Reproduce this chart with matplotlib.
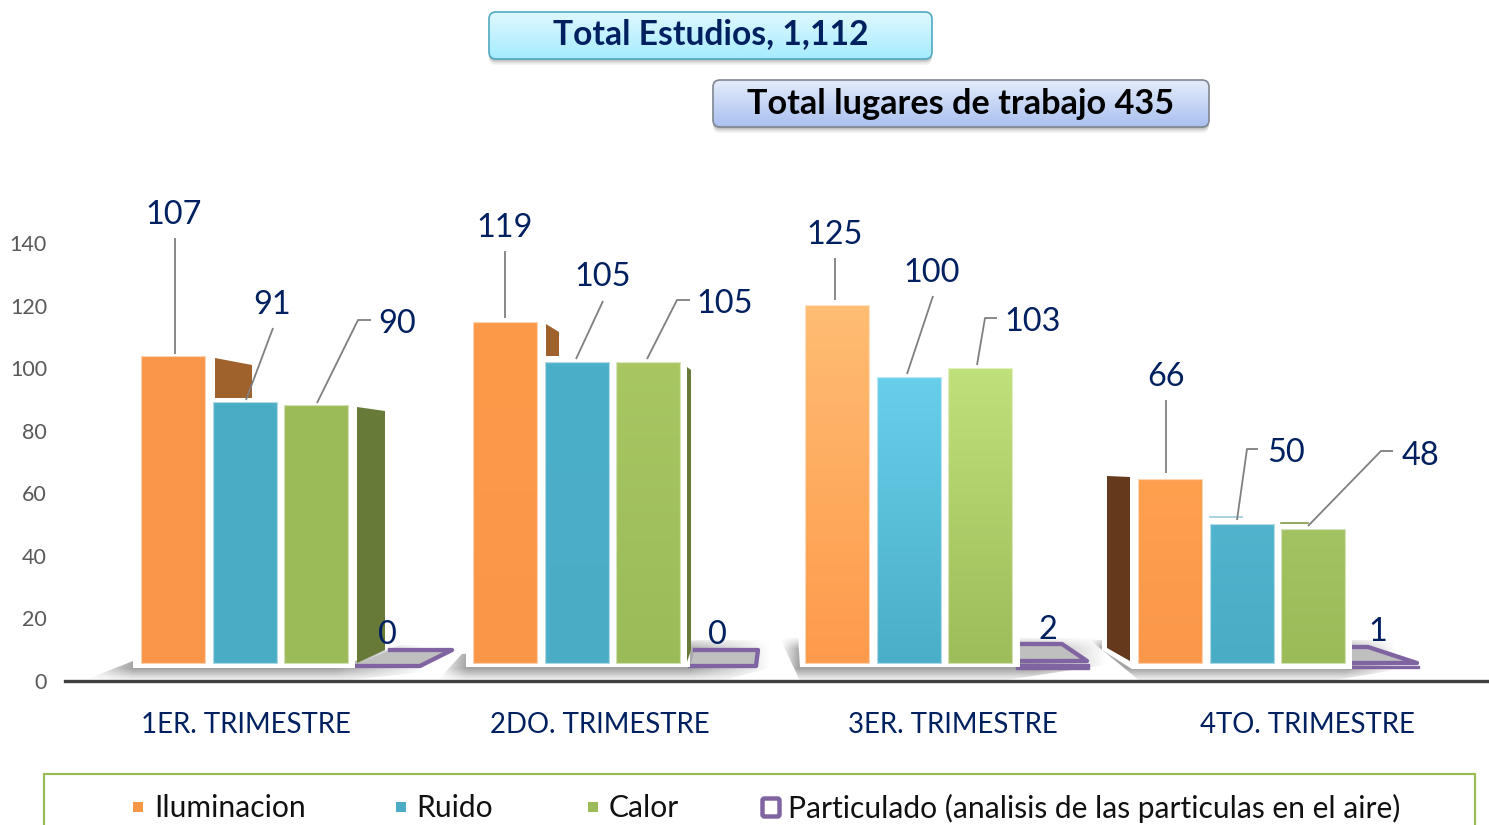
import numpy as np
import matplotlib
matplotlib.use('Agg')
import matplotlib.pyplot as plt
from matplotlib.colors import to_rgb, LinearSegmentedColormap
from matplotlib.patches import Polygon, FancyBboxPatch, Rectangle

plt.rcParams['font.family'] = ['Lato', 'DejaVu Sans']

W, H = 1489, 825
navy = '#002060'

# ================================== data ==================================
trimestres = ['1ER. TRIMESTRE', '2DO. TRIMESTRE', '3ER. TRIMESTRE', '4TO. TRIMESTRE']
iluminacion = [107, 119, 125, 66]
ruido = [91, 105, 100, 50]
calor = [90, 105, 103, 48]
particulado = [0, 0, 2, 1]
y_ticks = [0, 20, 40, 60, 80, 100, 120, 140]
series_names = ['Iluminacion', 'Ruido', 'Calor', 'Particulado (analisis de las particulas en el aire)']
total_estudios = 'Total Estudios, 1,112'
total_lugares = 'Total lugares de trabajo 435'

# ================================== layout ==================================
group_left = [141, 473, 805, 1138]
bar_step = 71.5
bar_w = 65
px_per_unit = 2.875
floor_y = 664
group_squash = [1, 1, 1, 0.977]

# (top colour, bottom colour) per group and series
bar_colors = [
    [('#FA964A', '#FA964A'), ('#4BACC6', '#4BACC6'), ('#9BBB59', '#9BBB59')],
    [('#FD9A4A', '#FA9648'), ('#4CAFC9', '#4BACC6'), ('#A8C763', '#9BBB59')],
    [('#FFBD73', '#FE9A4C'), ('#68CEEA', '#4BAEC8'), ('#BFE07A', '#9DBC5A')],
    [('#FFA04F', '#FB974A'), ('#52B3CE', '#4BACC6'), ('#A3C262', '#9BBB59')],
]

fig = plt.figure(figsize=(W / 100, H / 100), dpi=100)


def full_axes(z):
    a = fig.add_axes([0, 0, 1, 1], zorder=z)
    a.set_axis_off()
    a.patch.set_alpha(0)
    return a


def gradient(a, patch, y0, y1, c_top, c_bottom, x0=0, x1=W, zorder=1):
    cmap = LinearSegmentedColormap.from_list('g', [to_rgb(c_top), to_rgb(c_bottom)])
    im = a.imshow(np.linspace(0, 1, 64)[:, None], cmap=cmap, aspect='auto',
                  extent=[x0, x1, y1, y0], origin='upper', zorder=zorder)
    im.set_clip_path(patch)
    return im


def soft_shadow(a, poly, x0, x1, ramp_l, ramp_r, zorder=1):
    # grey with alpha fading down and towards both ends
    xs = np.arange(x0, x1)
    ys = np.arange(636, 682)
    fx = np.clip((xs - x0) / ramp_l, 0, 1) * np.clip((x1 - xs) / ramp_r, 0, 1)
    fy = np.interp(ys, [636, 648, 668, 681], [0, .55, .62, 0])
    img = np.zeros((len(ys), len(xs), 4))
    img[..., :3] = .42
    img[..., 3] = fy[:, None] * fx[None, :]
    p = Polygon(poly, closed=True, fc='none', ec='none')
    a.add_patch(p)
    im = a.imshow(img, aspect='auto', extent=[x0, x1, 682, 636], origin='upper', zorder=zorder)
    im.set_clip_path(p)


# back layer in picture pixels: floor shadows
back = full_axes(1)
soft_shadow(back, [(85, 680), (133, 661), (355, 661), (400, 645), (440, 645), (425, 672), (340, 681)], 85, 425, 48, 90)
soft_shadow(back, [(438, 680), (462, 654), (700, 640), (770, 640), (770, 668), (720, 681)], 438, 770, 28, 80)
soft_shadow(back, [(780, 638), (1105, 638), (1105, 665), (1000, 681), (800, 681)], 780, 1105, 18, 70)
soft_shadow(back, [(1090, 640), (1395, 640), (1395, 670), (1330, 681), (1140, 681)], 1090, 1395, 10, 50)

# particulado plates, the front band grows with the value
plate_faces = [
    [(355, 666), (420, 666), (452, 650), (390, 650)],
    [(690, 666), (756, 666), (758, 650), (695, 650)],
    [(1016, 644), (1062, 644), (1087, 661), (1016, 661)],
    [(1346, 647), (1368, 647), (1417, 663), (1346, 663)],
]
for face, val in zip(plate_faces, particulado):
    back.add_patch(Polygon(face, closed=True, fc='#BFBFBF', ec='none', zorder=3))
    back.plot(*zip(*face), color='#8064A2', lw=3.1, zorder=3, solid_joinstyle='round')
    if val > 0:
        xs = [q[0] for q in face]
        y = max(q[1] for q in face) + 2.5
        back.add_patch(Rectangle((min(xs), y), max(xs) + 2 - min(xs), val * px_per_unit,
                                 fc='#8064A2', ec='#8064A2', lw=1, zorder=4))

# white platforms under the bars
platforms = [
    [(133, 645), (355, 645), (355, 668), (133, 668)],
    [(466, 640), (690, 640), (690, 667), (466, 667)],
    [(798, 636), (1020, 636), (1020, 667), (800, 667)],
    [(1102, 628), (1352, 628), (1352, 669), (1132, 669), (1102, 650)],
]
for poly in platforms:
    back.add_patch(Polygon(poly, closed=True, fc='white', ec='none', zorder=4.5))

# fake perspective side walls
walls = [
    ([(215, 358), (252, 365), (252, 398), (215, 398)], '#A0622D'),
    ([(357, 407), (385, 411), (385, 650), (357, 663)], '#677A38'),
    ([(546, 324), (559, 332), (559, 356), (546, 356)], '#A0622D'),
    ([(687, 367), (691, 370), (691, 650), (687, 662)], '#677A38'),
    ([(1107, 476), (1130, 477), (1130, 661), (1107, 648)], '#64391C'),
]
for poly, col in walls:
    back.add_patch(Polygon(poly, closed=True, fc=col, ec='none', zorder=5))
back.plot([1210, 1242], [517, 517], color='#9CCBDC', lw=1.2, zorder=5)
back.plot([1281, 1308], [523, 523], color='#7F9A48', lw=1.2, zorder=5)
back.set_xlim(0, W)
back.set_ylim(H, 0)

# value axis and categories
ax = fig.add_axes([65 / W, 1 - 681 / H, (1488 - 65) / W, (681 - 243) / H], zorder=2)
ax.patch.set_alpha(0)
ax.set_ylim(0, 140)
ax.set_xlim(-0.512, 3.512)
ax.set_yticks(y_ticks)
ax.set_xticks(range(4))
ax.set_xticklabels(trimestres, fontsize=19.9, color=navy)
ax.tick_params(axis='both', length=0)
ax.tick_params(axis='x', pad=22.5)
ax.tick_params(axis='y', pad=13, labelsize=15.5, labelcolor='#595959')
for s in ['top', 'left', 'right']:
    ax.spines[s].set_visible(False)
ax.spines['bottom'].set_color('#404040')
ax.spines['bottom'].set_linewidth(2.4)

# bars, floor of the bars sits above the axis line
bx = full_axes(3)
for k, series in enumerate([iluminacion, ruido, calor]):
    for g, val in enumerate(series):
        left = group_left[g] + k * bar_step
        h = val * group_squash[g]
        top_c, bot_c = bar_colors[g][k]
        r = bx.bar(left, h, width=bar_w, align='edge', color=bot_c, edgecolor='none', zorder=2)[0]
        gradient(bx, r, h, 0, top_c, bot_c, left, left + bar_w, zorder=3)
        bx.add_patch(Rectangle((left, 0), bar_w, h, fc='none', ec='white', lw=1.6, alpha=.55, zorder=4))
bx.set_xlim(0, W)
bx.set_ylim(-(H - floor_y) / px_per_unit, floor_y / px_per_unit)

# top layer in picture pixels: data labels, legend, boxes
top = full_axes(4)
leaders = [
    (iluminacion[0], (174, 215), [(175, 238), (175, 354)]),
    (ruido[0], (272, 305), [(273, 328), (246, 400)]),
    (calor[0], (397, 324), [(371, 320), (358, 320), (317, 403)]),
    (iluminacion[1], (505, 228), [(505, 251), (505, 318)]),
    (ruido[1], (603, 277), [(603, 301), (576, 359)]),
    (calor[1], (725, 304), [(690, 300), (677, 300), (647, 359)]),
    (iluminacion[2], (835, 235), [(835, 258), (835, 300)]),
    (ruido[2], (932, 273), [(933, 296), (907, 374)]),
    (calor[2], (1033, 322), [(997, 318), (985, 318), (977, 365)]),
    (iluminacion[3], (1166, 377), [(1166, 400), (1166, 473)]),
    (ruido[3], (1286, 453), [(1258, 449), (1247, 449), (1237, 520)]),
    (calor[3], (1420, 456), [(1393, 451), (1381, 451), (1308, 526)]),
]
for val, (lx, ly), line in leaders:
    top.plot(*zip(*line), color='#7F7F7F', lw=1.3, solid_capstyle='butt')
    top.text(lx, ly, str(val), color=navy, fontsize=23.4, ha='center', va='center')
for val, (lx, ly) in zip(particulado, [(387, 635), (717, 635), (1048, 630), (1378, 632)]):
    top.text(lx, ly, str(val), color=navy, fontsize=23.4, ha='center', va='center')

# total boxes
boxes = [
    (489, 12, 443, 47, '#DFF8FE', '#A5ECFE', '#4FA9C0', total_estudios, navy, 24.2, -1),
    (713, 80, 496, 47, '#E4ECFA', '#A9C0F0', '#7F8690', total_lugares, 'black', 24.65, 0),
]
for x, y, w, h, c_top, c_bot, edge, label, tc, fs, dy in boxes:
    for off, a in [(6, .06), (4.5, .08), (3, .12), (1.5, .16)]:
        top.add_patch(FancyBboxPatch((x + 4, y + 4 + off), w - 8, h - 8, boxstyle='round,pad=4,rounding_size=7',
                                     fc='#404040', ec='none', alpha=a))
    b = FancyBboxPatch((x + 6, y + 6), w - 12, h - 12, boxstyle='round,pad=6,rounding_size=7',
                       fc='none', ec=edge, lw=1.2, zorder=3)
    top.add_patch(b)
    gradient(top, b, y, y + h, c_top, c_bot, x, x + w, zorder=2)
    top.text(x + w / 2, y + h / 2 + dy, label, color=tc, fontsize=fs, fontweight='bold',
             ha='center', va='center', zorder=4)

# legend box, runs off the bottom of the picture
top.add_patch(Rectangle((44, 774), 1431, 70, fc='white', ec='#9BBB59', lw=1.6, zorder=2))
legend_x = [(133, 154, '#F79646'), (396, 416, '#4BACC6'), (588, 609, '#9BBB59')]
for (mx, tx, col), name in zip(legend_x, series_names[:3]):
    top.add_patch(Rectangle((mx, 802), 10, 10, fc=col, ec='none', zorder=3))
    top.text(tx, 808, name, fontsize=21.6, color='#111111', ha='left', va='center', zorder=3)
top.add_patch(FancyBboxPatch((764, 800), 14, 15, boxstyle='round,pad=1.5,rounding_size=2',
                             fc='white', ec='#8064A2', lw=3.2, zorder=3))
top.text(788, 808, series_names[3], fontsize=21.6, color='#111111', ha='left', va='center', zorder=3)

top.set_xlim(0, W)
top.set_ylim(H, 0)

fig.savefig('out.png', dpi=100)
